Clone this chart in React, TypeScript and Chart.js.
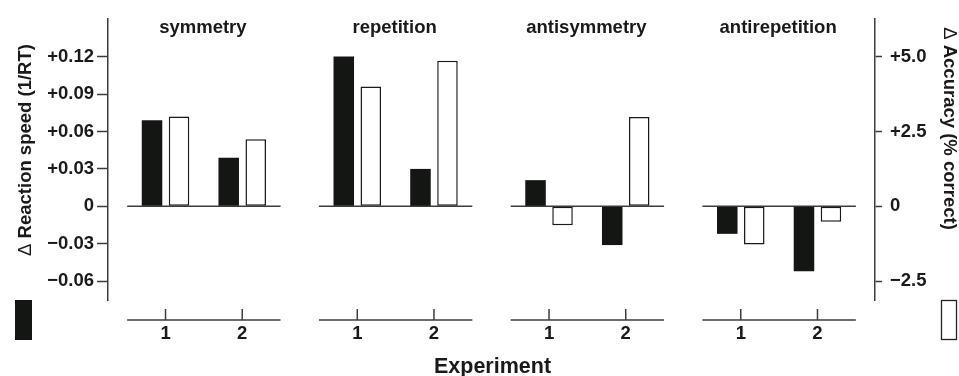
import React, { useEffect, useRef } from 'react';
import { Chart, registerables } from 'chart.js';

Chart.register(...registerables);

// ---- data ----
const panels = ['symmetry', 'repetition', 'antisymmetry', 'antirepetition'];
const experiments = ['1', '2'];
// order: panel1-exp1, panel1-exp2, panel2-exp1, ...
const reactionSpeed = [0.069, 0.039, 0.12, 0.03, 0.021, -0.031, -0.022, -0.052];
const accuracy = [3.0, 2.24, 4.0, 4.86, -0.63, 2.98, -1.27, -0.51];
const speedTicks = [-0.06, -0.03, 0, 0.03, 0.06, 0.09, 0.12];
const speedTickLabels = ['\u22120.06', '\u22120.03', '0', '+0.03', '+0.06', '+0.09', '+0.12'];
const accuracyTicks = [-2.5, 0, 2.5, 5];
const accuracyTickLabels = ['\u22122.5', '0', '+2.5', '+5.0'];
const deltaSymbol = '\u0394 ';
const speedTitle = 'Reaction speed (1/RT)';
const accuracyTitle = 'Accuracy (% correct)';
const xTitle = 'Experiment';

const FONT = "'Liberation Sans', Arial, Helvetica, sans-serif";
const TEXT = '#1a1a1a';
const LINE = '#3c3c3c';
const BLACK = '#141614';

// x position in half-category units: each panel spans 4 units, gap 1 unit
const xPos = (p: number, e: number) => p * 5 + 1 + e * 2;

const points = (vals: number[]) =>
  vals.map((v, i) => ({ x: xPos(Math.floor(i / experiments.length), i % experiments.length), y: v }));

function drawRotatedTitle(ctx: CanvasRenderingContext2D, cx: number, cy: number, angle: number, title: string) {
  ctx.save();
  ctx.translate(cx, cy);
  ctx.rotate(angle);
  ctx.textAlign = 'left';
  ctx.textBaseline = 'middle';
  ctx.font = `normal 18.5px ${FONT}`;
  const w1 = ctx.measureText(deltaSymbol).width;
  ctx.font = `bold 18.5px ${FONT}`;
  const w2 = ctx.measureText(title).width;
  const start = -(w1 + w2) / 2;
  ctx.font = `normal 18.5px ${FONT}`;
  ctx.fillText(deltaSymbol, start, 0);
  ctx.font = `bold 18.5px ${FONT}`;
  ctx.fillText(title, start + w1, 0);
  ctx.restore();
}

const decor = {
  id: 'decor',
  beforeDatasetsDraw(chart: any) {
    const { ctx, scales } = chart;
    const x = scales.x;
    const y0 = scales.y.getPixelForValue(0);
    ctx.save();
    ctx.strokeStyle = LINE;
    ctx.lineWidth = 1.5;
    panels.forEach((_, p) => {
      const a = x.getPixelForValue(p * 5);
      const b = x.getPixelForValue(p * 5 + 4);
      ctx.beginPath();
      ctx.moveTo(a, y0);
      ctx.lineTo(b, y0);
      ctx.stroke();
    });
    ctx.restore();
  },
  afterDraw(chart: any) {
    const { ctx, chartArea, scales } = chart;
    const x = scales.x;
    const axisY = chartArea.bottom + 20;
    ctx.save();
    ctx.strokeStyle = LINE;
    ctx.lineWidth = 1.5;
    ctx.fillStyle = TEXT;
    panels.forEach((name, p) => {
      const a = x.getPixelForValue(p * 5);
      const b = x.getPixelForValue(p * 5 + 4);
      ctx.beginPath();
      ctx.moveTo(a, axisY);
      ctx.lineTo(b, axisY);
      ctx.stroke();
      ctx.font = `bold 18.5px ${FONT}`;
      ctx.textAlign = 'center';
      experiments.forEach((lab, e) => {
        const cx = x.getPixelForValue(xPos(p, e));
        ctx.beginPath();
        ctx.moveTo(cx, axisY - 11);
        ctx.lineTo(cx, axisY);
        ctx.stroke();
        ctx.textBaseline = 'middle';
        ctx.fillText(lab, cx, axisY + 13.5);
      });
      ctx.textBaseline = 'alphabetic';
      ctx.fillText(name, (a + b) / 2 - 1, 33);
    });
    // x title
    ctx.font = `bold 21.5px ${FONT}`;
    ctx.textAlign = 'center';
    ctx.textBaseline = 'alphabetic';
    ctx.fillText(xTitle, (chartArea.left + chartArea.right) / 2 + 1, 373);

    // y titles
    drawRotatedTitle(ctx, 26, 150, -Math.PI / 2, speedTitle);
    drawRotatedTitle(ctx, 949, 128.5, Math.PI / 2, accuracyTitle);

    // legend keys
    ctx.fillStyle = BLACK;
    ctx.fillRect(15, chartArea.bottom, 17, 40);
    ctx.fillStyle = '#ffffff';
    ctx.fillRect(941.5, chartArea.bottom + 0.5, 15, 39);
    ctx.strokeStyle = '#222';
    ctx.lineWidth = 1.3;
    ctx.strokeRect(941.5, chartArea.bottom + 0.5, 15, 39);
    ctx.restore();
  },
};

export default function App() {
  const ref = useRef<HTMLCanvasElement>(null);
  useEffect(() => {
    if (!ref.current) return;
    const chart = new Chart(ref.current, {
      type: 'bar',
      data: {
        datasets: [
          {
            label: 'Reaction speed',
            data: points(reactionSpeed),
            yAxisID: 'y',
            backgroundColor: BLACK,
            borderColor: BLACK,
            borderWidth: 0,
            categoryPercentage: 0.704,
            barPercentage: 0.76,
          },
          {
            label: 'Accuracy',
            data: points(accuracy),
            yAxisID: 'y1',
            backgroundColor: '#ffffff',
            borderColor: '#1a1a1a',
            borderWidth: 1.5,
            borderSkipped: false,
            categoryPercentage: 0.704,
            barPercentage: 0.76,
          },
        ],
      },
      options: {
        responsive: false,
        animation: false,
        layout: { padding: { left: 0, right: 0, top: 13, bottom: 76 } },
        plugins: { legend: { display: false }, tooltip: { enabled: false }, title: { display: false } },
        scales: {
          x: {
            type: 'linear',
            display: false,
            offset: false,
            min: -0.5,
            max: 19.5,
            afterBuildTicks: (s: any) => {
              const t: any[] = [];
              panels.forEach((_, p) => experiments.forEach((__, e) => t.push({ value: xPos(p, e) })));
              s.ticks = t;
            },
          },
          y: {
            position: 'left',
            min: -0.075,
            max: 0.15,
            afterBuildTicks: (s: any) => {
              s.ticks = speedTicks.map((v) => ({ value: v }));
            },
            afterFit: (s: any) => {
              s.width = 108;
            },
            ticks: {
              callback: (_v: any, i: number) => speedTickLabels[i],
              font: { family: FONT, size: 18.5, weight: 'bold' },
              color: TEXT,
              padding: 3,
            },
            grid: { drawOnChartArea: false, drawTicks: true, tickLength: 11, tickColor: LINE, tickWidth: 1.5 },
            border: { display: true, color: LINE, width: 1.5 },
          },
          y1: {
            position: 'right',
            min: -3.125,
            max: 6.25,
            afterBuildTicks: (s: any) => {
              s.ticks = accuracyTicks.map((v) => ({ value: v }));
            },
            afterFit: (s: any) => {
              s.width = 84;
            },
            ticks: {
              callback: (_v: any, i: number) => accuracyTickLabels[i],
              font: { family: FONT, size: 18.5, weight: 'bold' },
              color: TEXT,
              padding: 8,
            },
            grid: { drawOnChartArea: false, drawTicks: true, tickLength: 7, tickColor: LINE, tickWidth: 1.5 },
            border: { display: true, color: LINE, width: 1.5 },
          },
        },
      } as any,
      plugins: [decor],
    });
    return () => chart.destroy();
  }, []);
  return (
    <div style={{ position: 'absolute', left: 0, top: 0, width: 959, height: 376, background: '#fff' }}>
      <canvas ref={ref} width={959} height={376} style={{ display: 'block' }} />
    </div>
  );
}
